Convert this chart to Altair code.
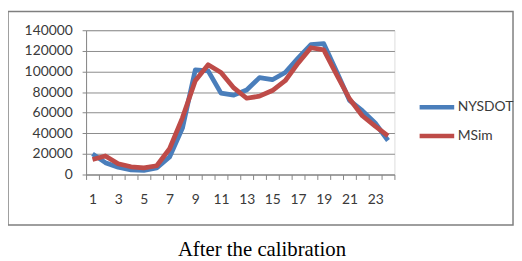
import altair as alt
import pandas as pd

hours = list(range(1, 25))
nysdot = [20000, 11500, 7000, 4500, 4000, 6500, 17000, 45000, 101500, 100500, 79000, 77000,
          82000, 94000, 92000, 99000, 113000, 126000, 127000, 100000, 72000, 62000, 50000, 33000]
msim = [14500, 18000, 10500, 7500, 6500, 8500, 25000, 55000, 91000, 106500, 99000, 84000,
        74000, 76000, 81500, 91000, 108000, 123000, 121000, 97000, 73500, 57000, 47000, 37500]
series_names = ["NYSDOT", "MSim"]
colors = ["#4A7EBB", "#BE4B48"]
y_ticks = [0, 20000, 40000, 60000, 80000, 100000, 120000, 140000]
caption = "After the calibration"

rows = []
for name, vals in zip(series_names, [nysdot, msim]):
    for h, v in zip(hours, vals):
        rows.append({"hour": h, "value": v, "series": name})
df = pd.DataFrame(rows)

FONT = "Lato"
TXT = "#3a3a3a"
FS = 14

lines = alt.Chart(df).mark_line(strokeWidth=4.8, strokeJoin="round", strokeCap="butt").encode(
    x=alt.X("hour:O", bandPosition=0.5,
            scale=alt.Scale(type="band", paddingInner=0, paddingOuter=0),
            axis=alt.Axis(title=None, tickBand="extent", labelAngle=0,
                          labelExpr="datum.value % 2 == 1 ? datum.label : ''",
                          tickSize=5, labelPadding=13, domainColor="#868686",
                          tickColor="#868686", labelFont=FONT, labelFontSize=FS,
                          labelColor=TXT, grid=False)),
    y=alt.Y("value:Q", scale=alt.Scale(domain=[0, 140000], nice=False),
            axis=alt.Axis(title=None, values=y_ticks, format="d", tickSize=4,
                          labelPadding=10, domainColor="#868686", tickColor="#868686",
                          gridColor="#8c8c8c", gridWidth=1, labelFont=FONT,
                          labelFontSize=FS, labelColor=TXT)),
    color=alt.Color("series:N", sort=series_names,
                    scale=alt.Scale(domain=series_names, range=colors),
                    legend=alt.Legend(title=None, orient="none", legendX=335, legendY=58,
                                      symbolType="stroke", symbolSize=1225,
                                      symbolStrokeWidth=4.5, labelFont=FONT,
                                      labelFontSize=FS, labelColor=TXT,
                                      labelOffset=1, rowPadding=-8)),
    order=alt.Order("hour:Q"),
)

frame_df = pd.DataFrame({"k": [0]})
frame = alt.Chart(frame_df).mark_rect(fill=None, stroke="#7f7f7f", strokeWidth=1.5, clip=False).encode(
    x=alt.value(-79), x2=alt.value(432), y=alt.value(-19), y2=alt.value(197)
)

cap_df = pd.DataFrame({"t": [caption]})
cap = alt.Chart(cap_df).mark_text(font="Liberation Serif", fontSize=21, color="#000000",
                                  baseline="alphabetic", align="center", clip=False).encode(
    text="t:N", x=alt.value(178), y=alt.value(228)
)

chart = alt.layer(frame, lines, cap).properties(
    width=312, height=146,
    autosize=alt.AutoSizeParams(type="none"),
    padding={"left": 79, "top": 21, "right": 121, "bottom": 84},
).configure_view(stroke=None).configure(background="white")

chart.save("out.html", embed_options={"renderer": "svg", "actions": False})
